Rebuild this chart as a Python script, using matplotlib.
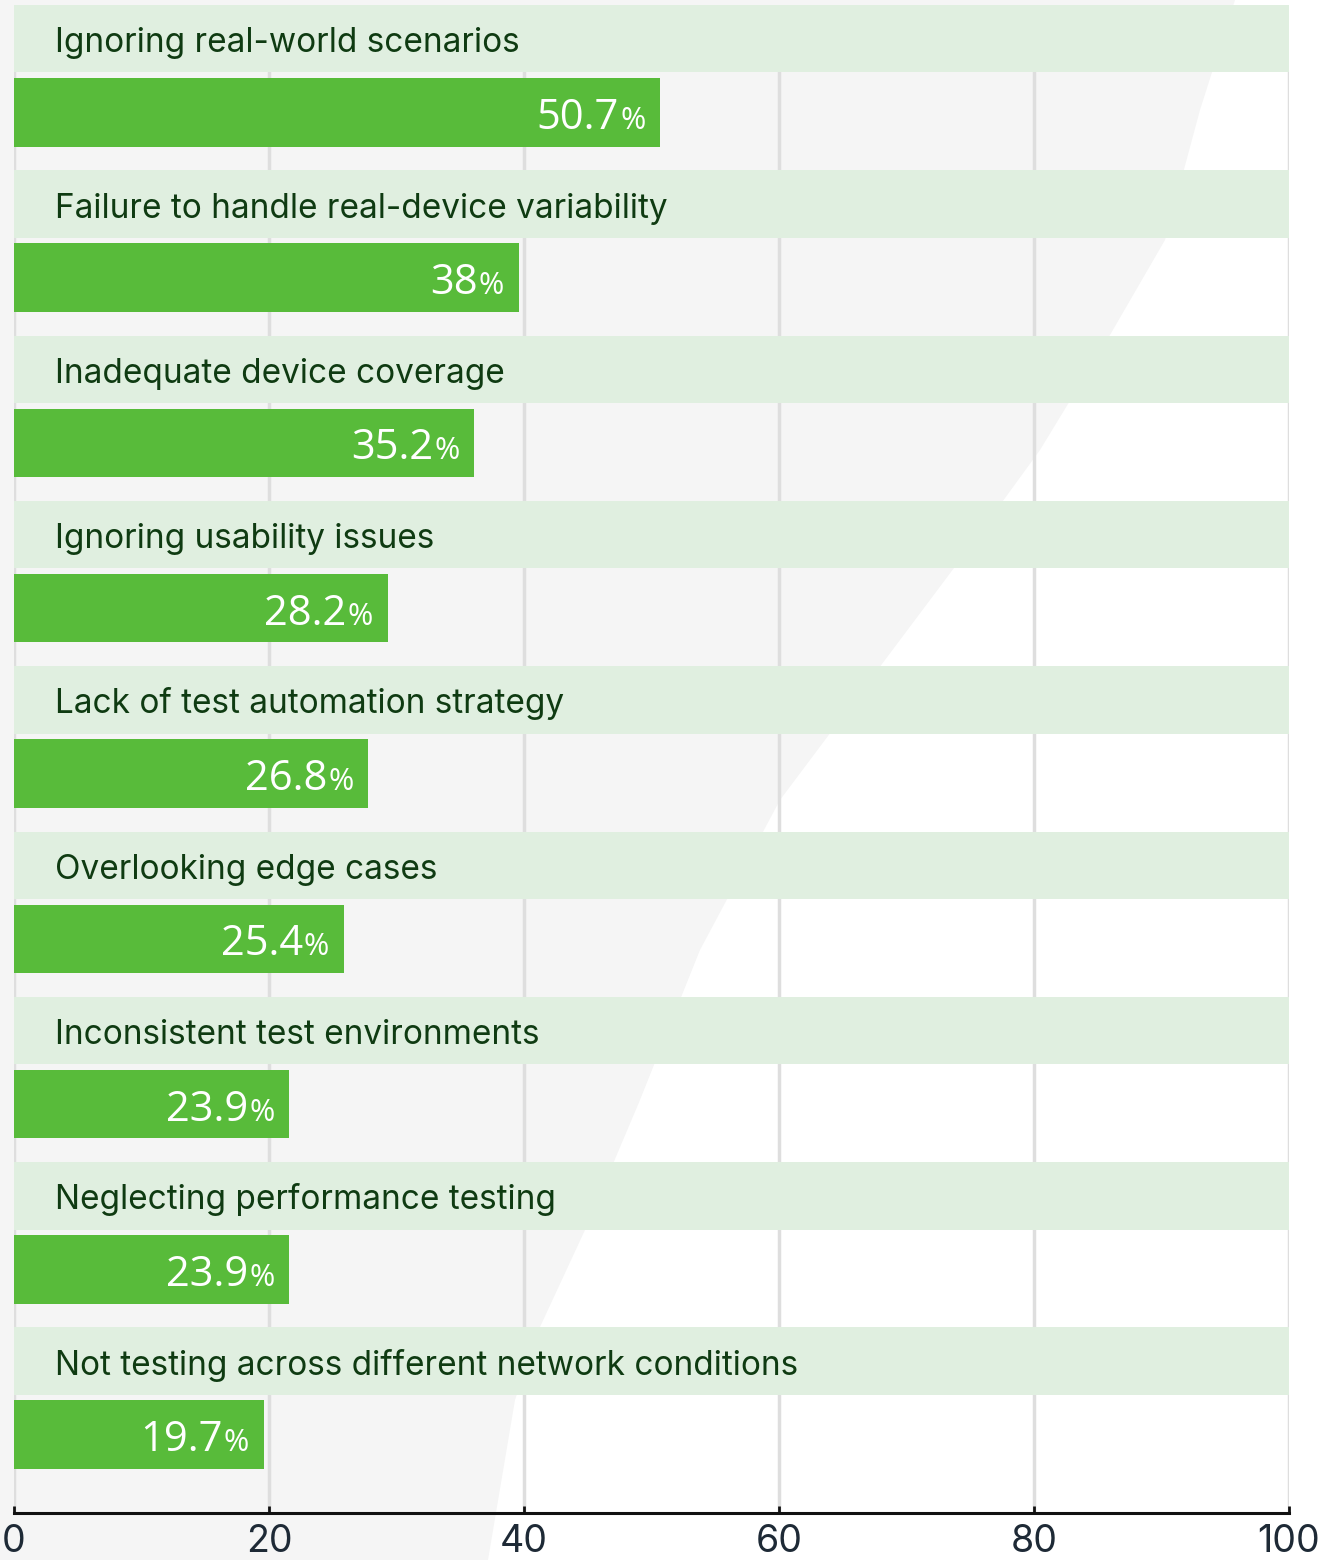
import matplotlib
matplotlib.use("Agg")
import matplotlib.pyplot as plt
from matplotlib.patches import Polygon

categories = [
    "Ignoring real-world scenarios",
    "Failure to handle real-device variability",
    "Inadequate device coverage",
    "Ignoring usability issues",
    "Lack of test automation strategy",
    "Overlooking edge cases",
    "Inconsistent test environments",
    "Neglecting performance testing",
    "Not testing across different network conditions",
]
# bar lengths as drawn in the picture (the source chart is not exactly to scale)
bar_lengths = [50.7, 39.6, 36.1, 29.3, 27.8, 25.9, 21.6, 21.6, 19.6]
value_labels = ["50.7", "38", "35.2", "28.2", "26.8", "25.4", "23.9", "23.9", "19.7"]
xticks = [0, 20, 40, 60, 80, 100]

W, H = 1333, 1560
fig = plt.figure(figsize=(W / 100, H / 100), dpi=100)
fig.patch.set_facecolor("white")

# faint grey swoosh in the background (figure pixel coords, y from top)
curve = [(1235, 0), (1200, 110), (1165, 240), (1110, 335), (1040, 450),
         (960, 560), (870, 680), (780, 800), (700, 950), (640, 1100),
         (585, 1230), (540, 1327), (515, 1400), (488, 1560)]
pts = [(0, 0)] + curve + [(0, H)]
fig.patches.append(Polygon([(x / W, 1 - y / H) for x, y in pts], closed=True,
                           transform=fig.transFigure, facecolor="#f5f5f5",
                           edgecolor="none", zorder=-5))

left, right = 14 / W, 1289 / W
top_px, axis_px = 5, 1513
period = 165.3
ax = fig.add_axes([left, 1 - axis_px / H, right - left, (axis_px - top_px) / H])
ax.set_facecolor("none")
ax.set_xlim(0, 100)
ax.set_ylim((axis_px - top_px) / period, 0)

band_h = 67.5 / period
bar_off = 73 / period
bar_h = 68.5 / period

for x in xticks:
    ax.axvline(x, color="#dedede", lw=2.5, zorder=1)

for i, (cat, v) in enumerate(zip(categories, bar_lengths)):
    ax.barh(i + band_h / 2, 100.1, height=band_h, left=0, color="#e0efe0",
            edgecolor="none", zorder=2)
    ax.barh(i + bar_off + bar_h / 2, v, height=bar_h, color="#58bb3a",
            edgecolor="none", zorder=3)
    ax.text(3.25, i + band_h / 2 + 13.5 / period, cat, fontsize=24,
            family="Inter", color="#0f3b12", va="baseline", zorder=4)

fig.canvas.draw()
renderer = fig.canvas.get_renderer()
for i, (v, lab) in enumerate(zip(bar_lengths, value_labels)):
    yb = i + bar_off + bar_h / 2 + 16.5 / period
    pct = ax.annotate("%", (v, yb), xytext=(-15, 0), textcoords="offset pixels",
                      fontsize=22, family="Open Sans", color="white",
                      ha="right", va="baseline", zorder=5)
    pw = pct.get_window_extent(renderer).width
    ax.annotate(lab, (v, yb), xytext=(-15 - pw - 1, 0), textcoords="offset pixels",
                fontsize=30, family="Open Sans", color="white",
                ha="right", va="baseline", zorder=5)

for s in ["top", "right", "left"]:
    ax.spines[s].set_visible(False)
ax.spines["bottom"].set_linewidth(2.2)
ax.spines["bottom"].set_color("#111111")
ax.spines["bottom"].set_zorder(6)
ax.set_yticks([])
ax.set_xticks(xticks)
ax.set_xticklabels([str(t) for t in xticks], fontsize=27, family="Inter",
                   color="#1e2a36")
ax.tick_params(axis="x", direction="in", length=5, width=2, color="#111111", pad=8)

fig.savefig("out.png", dpi=100)
